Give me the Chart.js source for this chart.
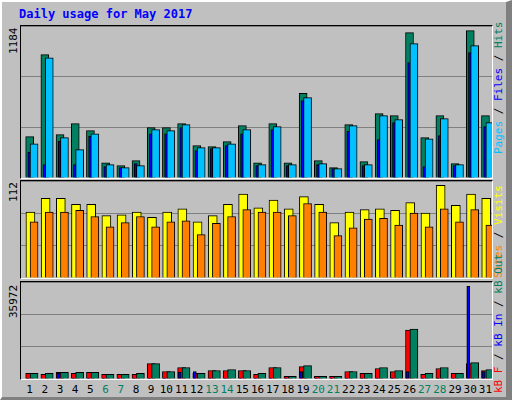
<!DOCTYPE html>
<html>
<head>
<meta charset="utf-8">
<script src="https://cdn.jsdelivr.net/npm/chart.js@4"></script>
<style>
  body { margin: 0; }
  #page { position: relative; width: 512px; height: 400px; background: #c0c0c0; overflow: hidden;
          box-sizing: border-box; border-left: 2px solid #fff; border-top: 2px solid #fff;
          border-right: 6px solid #808080; border-bottom: 3px solid #808080;
          font-family: "DejaVu Sans Mono", monospace; }
  .panel { position: absolute; left: 18px; width: 471px; border-top: 1px solid #000; border-left: 1px solid #000;
           border-right: 1px solid #fff; border-bottom: 1px solid #fff; }
  .panel canvas { display: block; }
  .rot { position: absolute; transform-origin: left top; transform: rotate(-90deg); white-space: nowrap; font-size: 11px; }
  .xl { position: absolute; top: 381px; font-size: 11px; transform: translateX(-50%); }
</style>
</head>
<body>
<div id="page">
  <div style="position:absolute;left:17px;top:5px;color:#0000ff;font-weight:bold;font-size:12px;">Daily usage for May 2017</div>
  <div class="panel" style="top:23px;height:152px;"><canvas id="c1"></canvas></div>
  <div class="panel" style="top:178px;height:97px;"><canvas id="c2"></canvas></div>
  <div class="panel" style="top:279px;height:97px;"><canvas id="c3"></canvas></div>
  <div class="rot" style="left:5px;top:52px;">1184</div>
  <div class="rot" style="left:5px;top:200px;">112</div>
  <div class="rot" style="left:5px;top:316px;">35972</div>
  <div class="rot" style="left:490px;top:152px;"><span style="color:#00c0ff">Pages</span> / <span style="color:#0000ff">Files</span> / <span style="color:#008060">Hits</span></div>
  <div class="rot" style="left:490px;top:276px;"><span style="color:#ff8000">Sites</span> / <span style="color:#ffff00">Visits</span></div>
  <div class="rot" style="left:490px;top:391px;"><span style="color:#ff0000">kB F</span> / <span style="color:#0000ff">kB In</span> / <span style="color:#008060">kB Out</span></div>
  <div id="xlabels"></div>
</div>
<script>
let days = [];
for (let d = 1; d <= 31; d++) days.push(d);
let weekends = [6, 7, 13, 14, 20, 21, 27, 28];

let hits  = [322, 961, 338, 423, 369, 119, 96, 135, 392, 392, 423, 252, 244, 283, 408, 119,
             423, 119, 660, 135, 81, 416, 127, 501, 486, 1132, 314, 486, 112, 1148, 486];
let files = [267, 937, 314, 221, 345, 104, 81, 96, 377, 369, 416, 236, 236, 267, 377, 104,
             400, 104, 626, 112, 73, 408, 104, 486, 455, 1047, 306, 462, 104, 1031, 431];
let pages = [200, 104, 286, 104, 325, 88, 81, 112, 345, 345, 392, 213, 229, 252, 345, 96,
             377, 96, 603, 104, 73, 364, 96, 299, 431, 899, 88, 330, 96, 976, 400];

let visits = [76, 92, 92, 85, 85, 72, 73, 76, 70, 76, 80, 65, 72, 85, 97, 81,
              90, 80, 94, 85, 64, 76, 79, 80, 78, 87, 75, 107, 84, 97, 92];
let sites  = [65, 76, 76, 78, 71, 59, 64, 71, 59, 65, 66, 50, 63, 71, 79, 76,
              76, 72, 86, 76, 49, 58, 68, 69, 61, 75, 59, 80, 65, 79, 61];

let kbF   = [2066, 1700, 2430, 2066, 2430, 1700, 1700, 1700, 5710, 2795, 4250, 2066, 3160, 3160, 3160, 1700,
             4250, 1000, 4617, 1000, 1000, 2795, 2066, 3888, 2795, 18100, 1700, 3888, 2066, 5710, 3160];
let kbIn  = [300, 200, 2066, 300, 300, 100, 100, 100, 300, 300, 2430, 2795, 300, 300, 300, 100,
             300, 100, 2795, 100, 100, 300, 300, 300, 300, 2795, 100, 300, 300, 34385, 2795];
let kbOut = [2066, 2066, 2430, 2430, 2430, 1700, 1700, 2066, 5710, 2795, 4250, 2066, 3160, 3524, 3160, 2066,
             4250, 1000, 4982, 1000, 1000, 2795, 2066, 4250, 3160, 18468, 2066, 4250, 2066, 6075, 3524];

function pts(values, shift) {
    return values.map((v, i) => ({ x: days[i] + shift, y: v }));
}

function bars(label, values, shift, width, color) {
    return {
        label: label, data: pts(values, shift), backgroundColor: color,
        borderColor: "#000", borderWidth: 1, barThickness: width, grouped: false
    };
}

function makeChart(id, max, datasets) {
    return new Chart(document.getElementById(id), {
        type: "bar",
        data: { datasets: datasets },
        options: {
            responsive: true, maintainAspectRatio: false, animation: false,
            layout: { padding: 0 },
            plugins: { legend: { display: false }, tooltip: { enabled: false } },
            scales: {
                x: { type: "linear", min: 0.5, max: 31.5, offset: false, display: false },
                y: {
                    min: 0, max: max, ticks: { display: false, stepSize: max / 3 },
                    grid: { color: "#808080", drawTicks: false, lineWidth: 1 },
                    border: { display: false }
                }
            }
        }
    });
}

makeChart("c1", 1184, [
    bars("Files", files, 0.36, 8, "#00c0ff"),
    bars("Pages", pages, 0.05, 3, "#0000ff"),
    bars("Hits", hits, 0.07, 8, "#008060")
]);
makeChart("c2", 112, [
    bars("Sites", sites, 0.36, 8, "#ff8000"),
    bars("Visits", visits, 0.12, 9, "#ffff00")
]);
makeChart("c3", 35972, [
    bars("kB Out", kbOut, 0.36, 8, "#008060"),
    bars("kB In", kbIn, -0.06, 3, "#0000ff"),
    bars("kB F", kbF, 0.07, 8, "#ff0000")
]);

let xl = document.getElementById("xlabels");
days.forEach(d => {
    let s = document.createElement("div");
    s.className = "xl";
    s.textContent = d;
    s.style.left = (17 + (d - 0.5) * 471 / 31 + 3) + "px";
    s.style.color = weekends.includes(d) ? "#008060" : "#000";
    xl.appendChild(s);
});
</script>
</body>
</html>
